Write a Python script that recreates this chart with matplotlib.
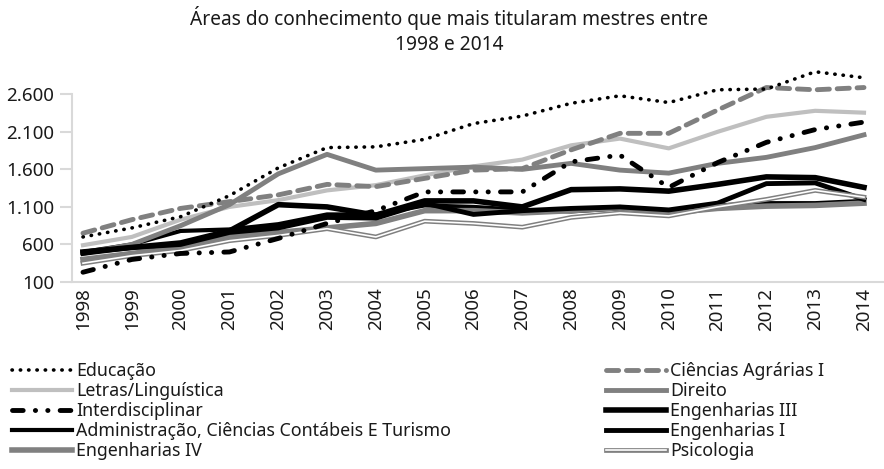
import matplotlib.pyplot as plt
import matplotlib.patheffects as pe
from matplotlib.ticker import FuncFormatter

plt.rcParams['font.family'] = ['Noto Sans', 'DejaVu Sans']

# ---- data ----
years = list(range(1998, 2015))

educacao = [700, 820, 970, 1250, 1620, 1890, 1900, 2000, 2210, 2310, 2480, 2580, 2490, 2660, 2670, 2900, 2820]
letras = [590, 700, 930, 1100, 1190, 1320, 1390, 1520, 1640, 1730, 1920, 2010, 1880, 2100, 2300, 2380, 2355]
interdisciplinar = [230, 400, 480, 500, 680, 880, 1050, 1300, 1300, 1300, 1700, 1790, 1360, 1690, 1960, 2130, 2230]
administracao = [500, 600, 780, 800, 870, 1000, 1000, 1120, 1100, 1060, 1040, 1080, 1040, 1120, 1150, 1150, 1180]
eng_iv = [400, 480, 560, 700, 760, 820, 880, 1050, 1050, 1020, 1050, 1090, 1020, 1080, 1110, 1120, 1150]
agrarias = [750, 930, 1080, 1170, 1260, 1400, 1370, 1480, 1590, 1610, 1860, 2080, 2080, 2390, 2690, 2660, 2690]
direito = [480, 600, 850, 1130, 1540, 1800, 1590, 1610, 1630, 1600, 1680, 1590, 1550, 1680, 1760, 1890, 2060]
eng_iii = [500, 560, 620, 780, 1130, 1100, 990, 1180, 1180, 1100, 1330, 1340, 1310, 1400, 1500, 1490, 1360]
eng_i = [480, 560, 600, 760, 820, 960, 950, 1150, 1000, 1050, 1080, 1100, 1060, 1150, 1410, 1420, 1200]
psicologia = [350, 450, 520, 650, 720, 810, 700, 910, 880, 830, 960, 1020, 980, 1100, 1200, 1320, 1230]

x = list(range(len(years)))

fig = plt.figure(figsize=(8.84, 4.69), dpi=100)
ax = fig.add_axes([72 / 884, (469 - 282) / 469, (884 - 72) / 884, (282 - 62) / 469])

# ---- lines ----
l_edu, = ax.plot(x, educacao, color='black', lw=2.6, linestyle=(0, (0.1, 2.2)),
                 dash_capstyle='round', label='Educação', zorder=5)
l_let, = ax.plot(x, letras, color='#bfbfbf', lw=3, label='Letras/Linguística')
l_int, = ax.plot(x, interdisciplinar, color='black', lw=3.5,
                 linestyle=(0, (2.2, 2.5, 0.05, 2.5, 0.05, 2.5)), dash_capstyle='round',
                 label='Interdisciplinar', zorder=4)
l_adm, = ax.plot(x, administracao, color='black', lw=3, label='Administração, Ciências Contábeis E Turismo')
l_e4, = ax.plot(x, eng_iv, color='#808080', lw=4, label='Engenharias IV')
l_agr, = ax.plot(x, agrarias, color='#808080', lw=3.5, linestyle=(0, (2.5, 1.6)),
                 dash_capstyle='round', label='Ciências Agrárias I')
l_dir, = ax.plot(x, direito, color='#808080', lw=3.5, label='Direito')
l_e3, = ax.plot(x, eng_iii, color='black', lw=4, label='Engenharias III')
l_e1, = ax.plot(x, eng_i, color='black', lw=3.5, label='Engenharias I')
l_psi, = ax.plot(x, psicologia, color='white', lw=1.2, label='Psicologia',
                 path_effects=[pe.Stroke(linewidth=3.4, foreground='#808080'), pe.Normal()])

# ---- axes styling ----
ax.set_xlim(-0.225, 16.41)
ax.set_ylim(100, 3030)
ax.set_yticks(range(100, 2601, 500))
ax.yaxis.set_major_formatter(FuncFormatter(lambda v, p: f"{int(v):,}".replace(",", ".")))
ax.set_xticks(x)
ax.set_xticklabels([str(y) for y in years], rotation=90)

for s in ['top', 'right']:
    ax.spines[s].set_visible(False)
ax.spines['left'].set_color('#d9d9d9')
ax.spines['left'].set_linewidth(1.5)
ax.spines['left'].set_bounds(100, 2600)
ax.spines['bottom'].set_color('#d9d9d9')
ax.spines['bottom'].set_linewidth(1.5)

ax.tick_params(axis='y', length=9, width=1.5, color='#d9d9d9', pad=4, labelsize=13.5, labelcolor='#1a1a1a')
ax.tick_params(axis='x', length=0, pad=4, labelsize=13.5, labelcolor='#1a1a1a')

fig.text(0.508, 0.987, 'Áreas do conhecimento que mais titularam mestres entre\n1998 e 2014',
         ha='center', va='top', fontsize=13.8, color='#1a1a1a', linespacing=1.3)

# ---- legends ----
leg_kw = dict(frameon=False, fontsize=12.8, handlelength=3.4, handletextpad=0.2,
              labelspacing=0.11, borderpad=0, borderaxespad=0, labelcolor='#1a1a1a')
leg1 = fig.legend(handles=[l_edu, l_let, l_int, l_adm, l_e4], loc='upper left',
                  bbox_to_anchor=(12 / 884, 1 - 362 / 469), **leg_kw)
leg2 = fig.legend(handles=[l_agr, l_dir, l_e3, l_e1, l_psi], loc='upper left',
                  bbox_to_anchor=(606 / 884, 1 - 362 / 469), **leg_kw)

fig.savefig('out.png', dpi=100)
